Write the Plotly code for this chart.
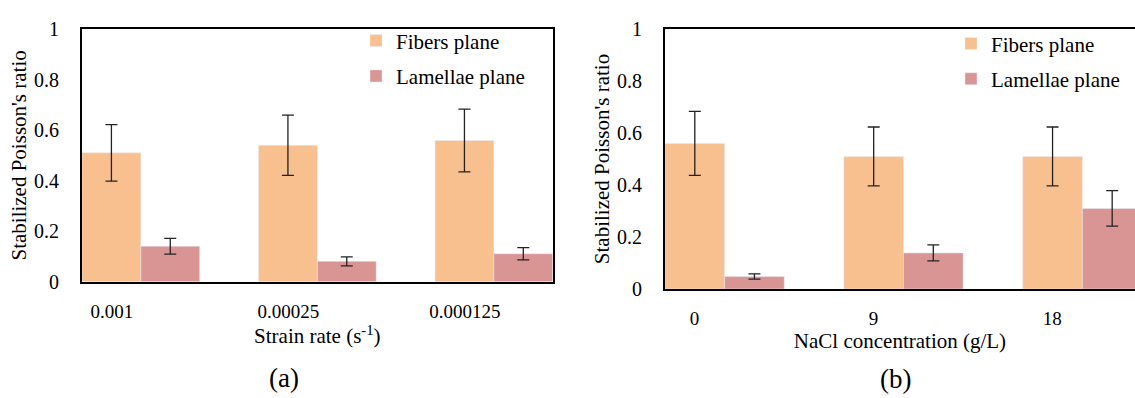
import plotly.graph_objects as go

W, H = 1135, 398
FONT = "'Liberation Serif', 'Times New Roman', Times, serif"

# Panel (a)
strain_rates = ["0.001", "0.00025", "0.000125"]
fibers_a = [0.510, 0.540, 0.559]
fibers_a_err = [0.112, 0.119, 0.124]
lamellae_a = [0.141, 0.081, 0.111]
lamellae_a_err = [0.031, 0.018, 0.024]

# Panel (b)
nacl = ["0", "9", "18"]
fibers_b = [0.560, 0.510, 0.510]
fibers_b_err = [0.123, 0.113, 0.113]
lamellae_b = [0.048, 0.139, 0.310]
lamellae_b_err = [0.010, 0.031, 0.068]

series_names = ["Fibers plane", "Lamellae plane"]
C_FIB = "#F8BF8F"
C_LAM = "#D99594"

def px_x(p):
    return p / W

def px_y(p):
    return 1 - p / H

err_style = dict(type="data", color="#222222", thickness=1.3, width=6, visible=True)

fig = go.Figure()
fig.add_trace(go.Bar(x=strain_rates, y=fibers_a, name=series_names[0], marker_color=C_FIB,
                     error_y=dict(array=fibers_a_err, **err_style), xaxis="x", yaxis="y",
                     legend="legend", legendgroup="fa"))
fig.add_trace(go.Bar(x=strain_rates, y=lamellae_a, name=series_names[1], marker_color=C_LAM,
                     error_y=dict(array=lamellae_a_err, **err_style), xaxis="x", yaxis="y",
                     legend="legend", legendgroup="la"))
fig.add_trace(go.Bar(x=nacl, y=fibers_b, name=series_names[0], marker_color=C_FIB,
                     error_y=dict(array=fibers_b_err, **err_style), xaxis="x2", yaxis="y2",
                     legend="legend2", legendgroup="fb"))
fig.add_trace(go.Bar(x=nacl, y=lamellae_b, name=series_names[1], marker_color=C_LAM,
                     error_y=dict(array=lamellae_b_err, **err_style), xaxis="x2", yaxis="y2",
                     legend="legend2", legendgroup="lb"))

font = dict(family=FONT, size=21, color="black")
xtick_font = dict(family=FONT, size=19, color="black")
ytick_font = dict(family=FONT, size=20, color="black")
xcommon = dict(type="category", showline=True, linewidth=2, linecolor="black", mirror=True,
               ticks="", showgrid=False, tickfont=xtick_font, ticklabelstandoff=11,
               title_font=font)
ycommon = dict(range=[0, 1], dtick=0.2, showline=True, linewidth=2, linecolor="black",
               ticks="", showgrid=False, zeroline=False, tickfont=ytick_font, ticklabelstandoff=17,
               title_font=font, title_text="Stabilized Poisson's ratio", title_standoff=2)

fig.update_layout(
    width=W, height=H,
    margin=dict(l=0, r=0, t=0, b=0),
    paper_bgcolor="white", plot_bgcolor="white",
    font=font,
    barmode="group", bargap=1/3, bargroupgap=0,
    xaxis=dict(domain=[px_x(82), px_x(552.7)], range=[-1/3, 7/3], anchor="y",
               ticklabelshift=-29, title_text="Strain rate (s<sup>-1</sup>)",
               title_standoff=6, **xcommon),
    yaxis=dict(domain=[px_y(286.7), px_y(19)], anchor="x", mirror=True, **ycommon),
    xaxis2=dict(domain=[px_x(665), 1.0], range=[-1/3, 2 + 1/3 - 7/179], anchor="y2",
                ticklabelshift=-30, title_text="NaCl concentration (g/L)",
                title_standoff=0, **xcommon),
    yaxis2=dict(domain=[px_y(294.3), px_y(19)], anchor="x2", mirror=False, **ycommon),
    legend=dict(x=px_x(356), y=px_y(10), xanchor="left", yanchor="top",
                font=font, bgcolor="rgba(0,0,0,0)", tracegroupgap=5, traceorder="grouped"),
    legend2=dict(x=px_x(951), y=px_y(13), xanchor="left", yanchor="top",
                 font=font, bgcolor="rgba(0,0,0,0)", tracegroupgap=5, traceorder="grouped"),
    annotations=[
        dict(text="(a)", x=px_x(284), y=px_y(388), xref="paper", yref="paper",
             xanchor="center", yanchor="middle",
             showarrow=False, font=dict(family=FONT, size=27, color="black")),
        dict(text="(b)", x=px_x(895), y=px_y(390), xref="paper", yref="paper",
             xanchor="center", yanchor="middle",
             showarrow=False, font=dict(family=FONT, size=27, color="black")),
    ],
)

fig.write_html("out.html")
